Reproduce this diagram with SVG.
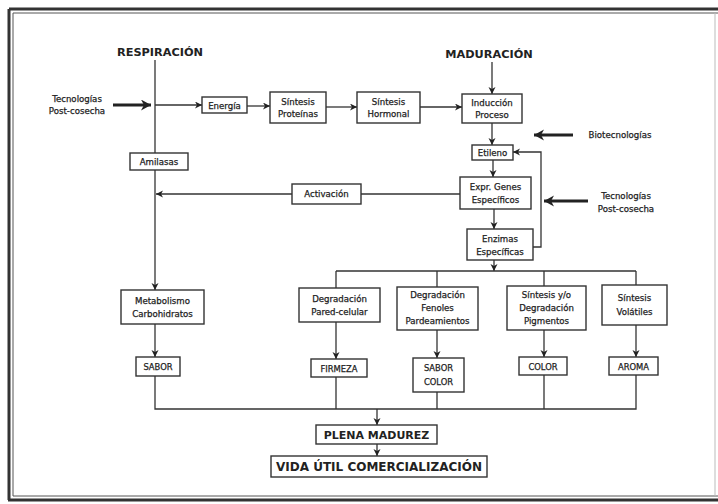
<svg xmlns="http://www.w3.org/2000/svg" width="718" height="504" viewBox="0 0 718 504">
  <defs>
    <marker id="arr" markerUnits="userSpaceOnUse" markerWidth="8" markerHeight="8" refX="7" refY="3.5" orient="auto">
      <path d="M0,0 L7,3.5 L0,7 L2,3.5 z" fill="#222"/>
    </marker>
    <marker id="bigArr" markerUnits="userSpaceOnUse" markerWidth="12" markerHeight="12" refX="10" refY="5.5" orient="auto">
      <path d="M0,0 L10,5.5 L0,11 L3,5.5 z" fill="#222"/>
    </marker>
  </defs>
  <style>
    .box { fill: #fff; stroke: #333; stroke-width: 1.4; }
    .t { font-family: "DejaVu Sans", Verdana, sans-serif; font-size: 8.6px; fill: #222; stroke: #222; stroke-width: 0.25px; text-anchor: middle; }
    .cap { font-family: "DejaVu Sans", Verdana, sans-serif; font-size: 8.4px; fill: #222; stroke: #222; stroke-width: 0.25px; text-anchor: middle; }
    .head { font-family: "DejaVu Sans", Verdana, sans-serif; font-size: 11.3px; font-weight: bold; fill: #222; text-anchor: middle; }
    .big { font-family: "DejaVu Sans", Verdana, sans-serif; font-size: 11px; font-weight: bold; fill: #222; text-anchor: middle; }
    .ln { fill: none; stroke: #333; stroke-width: 1.3; }
    .la { fill: none; stroke: #333; stroke-width: 1.3; marker-end: url(#arr); }
    .thick { fill: none; stroke: #222; stroke-width: 3; marker-end: url(#bigArr); }
  </style>

  <rect width="718" height="504" fill="#fff"/>

  <!-- outer frame -->
  <g id="frame">
    <path d="M9,9 H718 M9,9 V500 M8,500 H718" fill="none" stroke="#333" stroke-width="3"/>
    <path d="M13,13 H718 M13,13 V496 M13,496 H718" fill="none" stroke="#555" stroke-width="1"/>
    <path d="M715,13 V496" fill="none" stroke="#bbb" stroke-width="1"/>
  </g>

  <!-- headings and side labels -->
  <g id="respiracion"><text class="head" x="160" y="56">RESPIRACIÓN</text></g>
  <g id="maduracion"><text class="head" x="489" y="58">MADURACIÓN</text></g>
  <g id="tec-left">
    <text class="t" x="77" y="102">Tecnologías</text>
    <text class="t" x="77" y="114">Post-cosecha</text>
  </g>
  <g id="biotec"><text class="t" x="620" y="138">Biotecnologías</text></g>
  <g id="tec-right">
    <text class="t" x="626" y="199">Tecnologías</text>
    <text class="t" x="626" y="212">Post-cosecha</text>
  </g>

  <!-- connectors -->
  <g id="connectors">
    <path class="ln" d="M155,60 V153"/>
    <path class="thick" d="M113,105 H151"/>
    <path class="la" d="M155,105 H202"/>
    <path class="la" d="M247,106 H270"/>
    <path class="la" d="M326,107 H357"/>
    <path class="la" d="M420,107 H462"/>
    <path class="la" d="M492,62 V94"/>
    <path class="la" d="M492,123 V145"/>
    <path class="thick" d="M573,135 H534"/>
    <path class="la" d="M493,160 V177"/>
    <path class="thick" d="M588,201 H544"/>
    <path class="la" d="M494,209 V229"/>
    <path class="la" d="M533,247 H541 V152 H513"/>
    <path class="ln" d="M460,194 H361"/>
    <path class="la" d="M292,194 H156"/>
    <path class="la" d="M155,170 V290"/>
    <path class="la" d="M494,260 V271"/>
    <path class="ln" d="M336,271 H636 M336,271 V288 M437,271 V287 M544,271 V286 M636,271 V285"/>
    <path class="la" d="M155,324 V357"/>
    <path class="la" d="M336,322 V359"/>
    <path class="la" d="M437,330 V358"/>
    <path class="la" d="M544,330 V357"/>
    <path class="la" d="M636,325 V357"/>
    <path class="ln" d="M155,376 V409 H636 V375 M336,377 V409 M437,392 V409 M544,375 V409"/>
    <path class="la" d="M377,409 V425"/>
    <path class="la" d="M377,444 V456"/>
  </g>

  <!-- nodes -->
  <g id="energia">
    <rect class="box" x="202" y="97" width="45" height="16"/>
    <text class="t" x="224.5" y="108.5">Energía</text>
  </g>
  <g id="sintesis-proteinas">
    <rect class="box" x="270" y="92" width="56" height="31"/>
    <text class="t" x="298" y="105">Síntesis</text>
    <text class="t" x="298" y="117">Proteínas</text>
  </g>
  <g id="sintesis-hormonal">
    <rect class="box" x="357" y="92" width="63" height="31"/>
    <text class="t" x="388.5" y="105">Síntesis</text>
    <text class="t" x="388.5" y="117">Hormonal</text>
  </g>
  <g id="induccion">
    <rect class="box" x="462" y="94" width="60" height="29"/>
    <text class="t" x="492" y="106">Inducción</text>
    <text class="t" x="492" y="118">Proceso</text>
  </g>
  <g id="etileno">
    <rect class="box" x="472" y="145" width="41" height="15"/>
    <text class="t" x="492.5" y="156">Etileno</text>
  </g>
  <g id="expr-genes">
    <rect class="box" x="460" y="177" width="71" height="32"/>
    <text class="t" x="495.5" y="190">Expr. Genes</text>
    <text class="t" x="495.5" y="203">Específicos</text>
  </g>
  <g id="enzimas">
    <rect class="box" x="467" y="229" width="66" height="31"/>
    <text class="t" x="500" y="242">Enzimas</text>
    <text class="t" x="500" y="255">Específicas</text>
  </g>
  <g id="activacion">
    <rect class="box" x="292" y="184" width="69" height="20"/>
    <text class="t" x="326.5" y="197">Activación</text>
  </g>
  <g id="amilasas">
    <rect class="box" x="130" y="153" width="58" height="17"/>
    <text class="t" x="159" y="165">Amilasas</text>
  </g>
  <g id="metabolismo">
    <rect class="box" x="121" y="290" width="83" height="34"/>
    <text class="t" x="162.5" y="304">Metabolismo</text>
    <text class="t" x="162.5" y="317">Carbohidratos</text>
  </g>
  <g id="pared-celular">
    <rect class="box" x="299" y="288" width="81" height="34"/>
    <text class="t" x="339.5" y="302">Degradación</text>
    <text class="t" x="339.5" y="315">Pared-celular</text>
  </g>
  <g id="fenoles">
    <rect class="box" x="397" y="287" width="81" height="43"/>
    <text class="t" x="437.5" y="298">Degradación</text>
    <text class="t" x="437.5" y="311">Fenoles</text>
    <text class="t" x="437.5" y="324">Pardeamientos</text>
  </g>
  <g id="pigmentos">
    <rect class="box" x="507" y="286" width="79" height="44"/>
    <text class="t" x="546.5" y="298">Síntesis y/o</text>
    <text class="t" x="546.5" y="311">Degradación</text>
    <text class="t" x="546.5" y="324">Pigmentos</text>
  </g>
  <g id="volatiles">
    <rect class="box" x="602" y="285" width="65" height="40"/>
    <text class="t" x="634.5" y="301">Síntesis</text>
    <text class="t" x="634.5" y="315">Volátiles</text>
  </g>
  <g id="sabor">
    <rect class="box" x="136" y="357" width="44" height="19"/>
    <text class="cap" x="158" y="370">SABOR</text>
  </g>
  <g id="firmeza">
    <rect class="box" x="311" y="359" width="56" height="18"/>
    <text class="cap" x="339" y="371.5">FIRMEZA</text>
  </g>
  <g id="sabor-color">
    <rect class="box" x="413" y="358" width="51" height="34"/>
    <text class="cap" x="438.5" y="371">SABOR</text>
    <text class="cap" x="438.5" y="385">COLOR</text>
  </g>
  <g id="color">
    <rect class="box" x="519" y="357" width="48" height="18"/>
    <text class="cap" x="543" y="369.5">COLOR</text>
  </g>
  <g id="aroma">
    <rect class="box" x="609" y="357" width="49" height="18"/>
    <text class="cap" x="633.5" y="369.5">AROMA</text>
  </g>
  <g id="plena-madurez">
    <rect class="box" x="316" y="425" width="121" height="19"/>
    <text class="big" x="376.5" y="439">PLENA MADUREZ</text>
  </g>
  <g id="vida-util">
    <rect class="box" x="271" y="456" width="216" height="21"/>
    <text class="big" x="379" y="471" style="font-size:12px">VIDA ÚTIL COMERCIALIZACIÓN</text>
  </g>
</svg>
